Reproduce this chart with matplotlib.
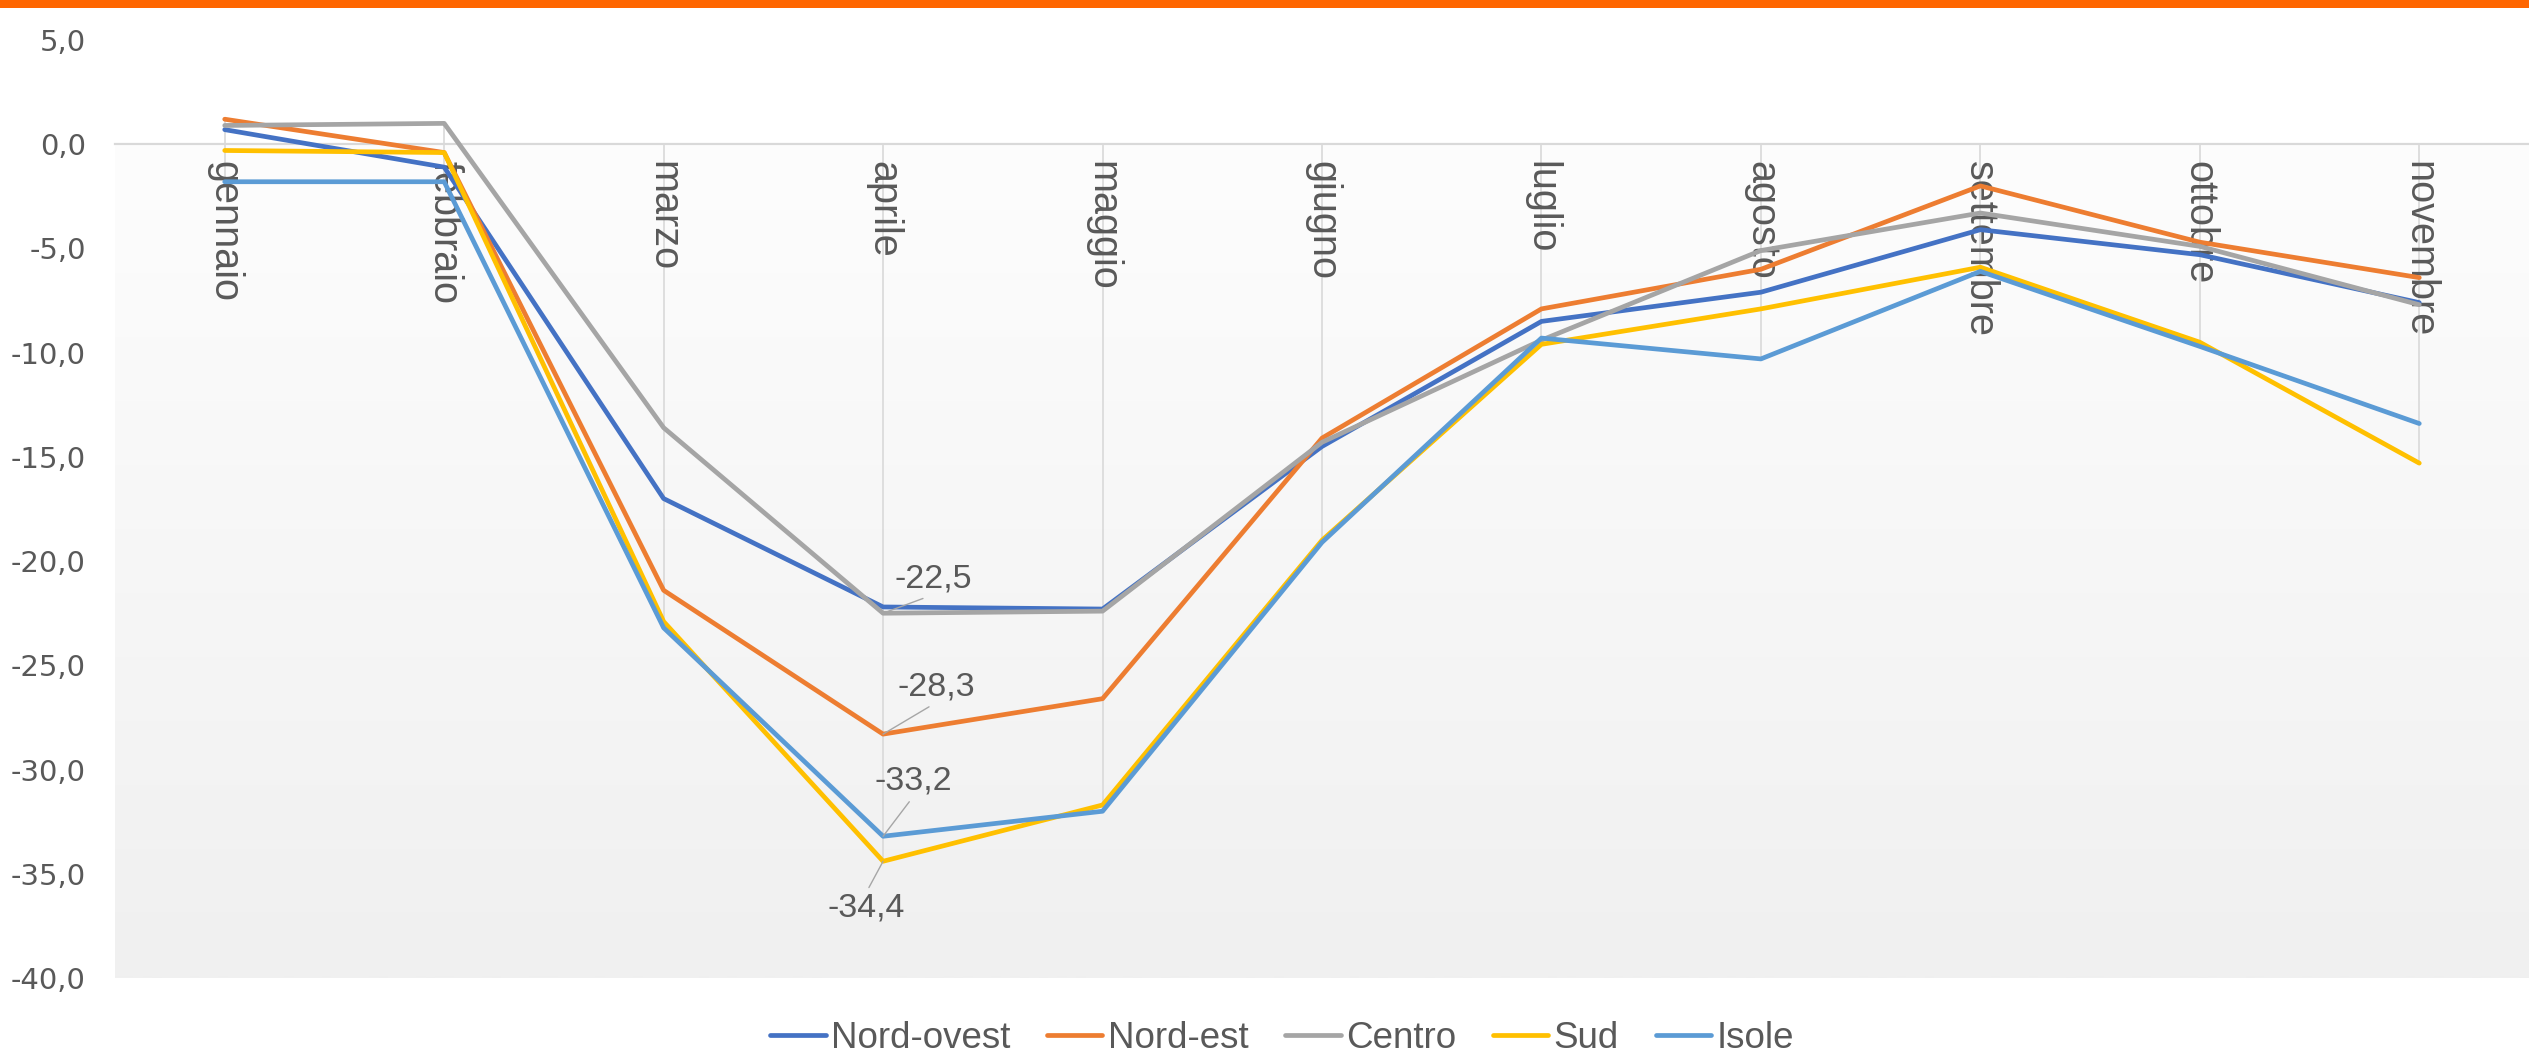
import matplotlib
matplotlib.use("Agg")
import matplotlib.pyplot as plt
import numpy as np
from matplotlib.patches import Rectangle

months = ['gennaio', 'febbraio', 'marzo', 'aprile', 'maggio', 'giugno',
          'luglio', 'agosto', 'settembre', 'ottobre', 'novembre']

series_names = ['Nord-ovest', 'Nord-est', 'Centro', 'Sud', 'Isole']
nord_ovest = [0.7, -1.1, -17.0, -22.2, -22.3, -14.5, -8.5, -7.1, -4.1, -5.3, -7.6]
nord_est = [1.2, -0.4, -21.4, -28.3, -26.6, -14.1, -7.9, -6.0, -2.0, -4.7, -6.4]
centro = [0.9, 1.0, -13.6, -22.5, -22.4, -14.3, -9.4, -5.1, -3.3, -4.9, -7.7]
sud = [-0.3, -0.4, -22.9, -34.4, -31.7, -19.0, -9.6, -7.9, -5.9, -9.5, -15.3]
isole = [-1.8, -1.8, -23.2, -33.2, -32.0, -19.1, -9.3, -10.3, -6.1, -9.7, -13.4]

colors = ['#4472C4', '#ED7D31', '#A5A5A5', '#FFC000', '#5B9BD5']
y_ticks = [5, 0, -5, -10, -15, -20, -25, -30, -35, -40]

all_series = [nord_ovest, nord_est, centro, sud, isole]
TXT = '#595959'

W, H = 2529, 1057
fig = plt.figure(figsize=(W / 100, H / 100), dpi=100)
fig.patch.set_facecolor('white')

ax = fig.add_axes([115 / W, (H - 978) / H, 1 - 115 / W, (978 - 40) / H])
ax.set_facecolor('white')

ymin, ymax = -40, 5
# gradient background below the category axis
grad = np.linspace(253, 240, 256).reshape(-1, 1) / 255.0
grad_img = np.dstack([grad, grad, grad])
frac0 = (0 - ymin) / (ymax - ymin)
ax.imshow(grad_img, extent=(0, 1, 0, frac0), transform=ax.transAxes,
          aspect='auto', zorder=0, interpolation='bilinear')

x = np.arange(len(months))
data = np.array(all_series)

# drop lines
lo = np.minimum(data.min(axis=0), 0)
hi = np.maximum(data.max(axis=0), 0)
ax.vlines(x, lo, hi, color='#D9D9D9', lw=1.2, zorder=1)

for name, vals, c in zip(series_names, all_series, colors):
    ax.plot(x, vals, color=c, lw=3.4, label=name, zorder=3,
            solid_joinstyle='round', solid_capstyle='round')

ax.set_xlim(-0.5, len(months) - 0.5)
ax.set_ylim(ymin, ymax)

# axes styling
for s in ['top', 'right', 'left']:
    ax.spines[s].set_visible(False)
ax.spines['bottom'].set_position(('data', 0))
ax.spines['bottom'].set_color('#D9D9D9')
ax.spines['bottom'].set_linewidth(1.6)
ax.spines['bottom'].set_zorder(2)

ax.set_yticks(y_ticks)
ax.set_yticklabels([f"{v:.1f}".replace('.', ',') for v in y_ticks],
                   fontsize=21, color=TXT, family='DejaVu Sans')
ax.tick_params(axis='y', length=0, pad=21)

ax.set_xticks(x)
ax.set_xticklabels(months, rotation=-90, fontsize=28.5, color=TXT,
                   family=['Liberation Sans', 'DejaVu Sans'])
ax.tick_params(axis='x', length=0, pad=12)

# data labels at aprile
ia = months.index('aprile')
annots = [
    (centro, (50, 34), (0.5, 0.0)),
    (nord_est, (53, 47), (0.5, 0.0)),
    (isole, (30, 55), (0.5, 0.0)),
    (sud, (-17, -47), (0.5, 1.0)),
]
for vals, off, rel in annots:
    v = vals[ia]
    ax.annotate(f"{v:.1f}".replace('.', ','), xy=(ia, v), xytext=off,
                textcoords='offset pixels', ha='center', va='center',
                fontsize=24.5, color=TXT, family=['Liberation Sans', 'DejaVu Sans'],
                arrowprops=dict(arrowstyle='-', color='#A6A6A6', lw=1.0,
                                shrinkA=2, shrinkB=0, relpos=rel),
                zorder=5)

# legend
handles, labels = ax.get_legend_handles_labels()
leg = fig.legend(handles, labels, loc='center', bbox_to_anchor=(0.507, 1 - 1038 / H),
                 ncol=5, frameon=False, handlelength=1.5, handletextpad=0.15,
                 columnspacing=1.0, borderpad=0,
                 prop={'family': ['Liberation Sans', 'DejaVu Sans'], 'size': 26.5})
for t in leg.get_texts():
    t.set_color(TXT)

# orange top bar
fig.add_artist(Rectangle((0, 1 - 8 / H), 1, 8 / H, transform=fig.transFigure,
                         color='#FF6600', lw=0, zorder=10))

fig.savefig('out.png', dpi=100, facecolor='white')
